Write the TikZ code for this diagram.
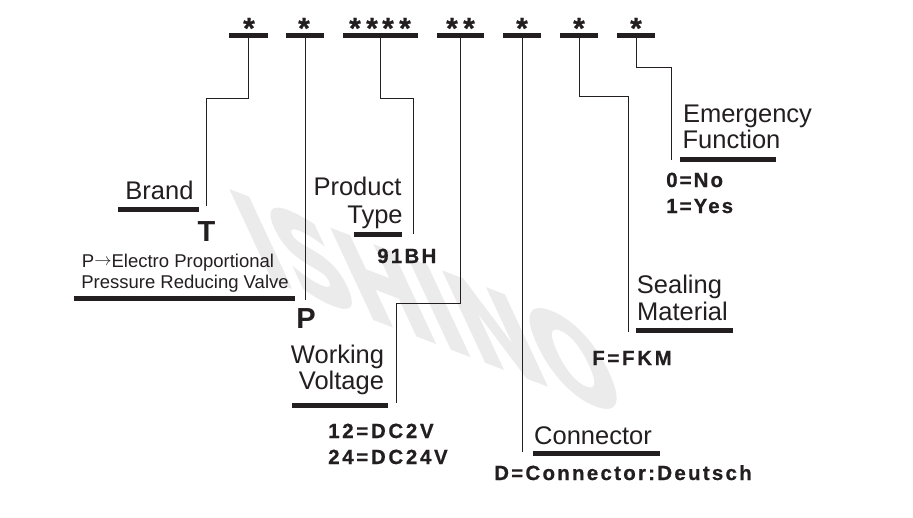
\documentclass[tikz,border=0pt]{standalone}
\usepackage{fontspec}
\setmainfont{Liberation Sans}
\newfontfamily\wmfont{DejaVu Sans}
\definecolor{ink}{HTML}{231F20}
\definecolor{wmgray}{HTML}{EBEBEB}
\begin{document}
\begin{tikzpicture}[x=1pt,y=-1pt,
  thickbar/.style={fill=ink, draw=none, minimum height=5pt, minimum width=#1, inner sep=0pt, outer sep=0pt},
  star/.style={font=\bfseries\fontsize{30}{30}\selectfont\addfontfeatures{FakeBold=0.6}, text=ink, inner sep=0pt, anchor=base},
  lab/.style={font=\fontsize{25.5}{28}\selectfont, text=ink, inner sep=0pt, anchor=base},
  small/.style={font=\fontsize{18.5}{20}\selectfont, text=ink, inner sep=0pt, anchor=base},
  big/.style={font=\bfseries\fontsize{29}{32}\selectfont, text=ink, inner sep=0pt, anchor=base},
  val/.style={font=\bfseries\fontsize{20.5}{22}\selectfont\addfontfeatures{LetterSpace=#1,FakeBold=0.6}, text=ink, inner sep=0pt, anchor=base west},
  conn/.style={draw=ink, line width=1pt},
  wmk/.style={font=\wmfont\bfseries\fontsize{136}{136}\selectfont\addfontfeatures{FakeBold=2.5}, text=wmgray, inner sep=0pt, transform shape, cm={0.68,-0.26,-0.42,0.9,(0,0)}}
]
\useasboundingbox (0,0) rectangle (913,517);
\fill[white] (0,0) rectangle (913,517);

% watermark
\begin{scope}[shift={(428,303)}]
  \node[wmk] (wm) at (0,0) {ISHINO};
\end{scope}

% top bars
\node[thickbar=39pt] (b1) at (248.5,35.5) {};
\node[thickbar=38pt] (b2) at (305,35.5) {};
\node[thickbar=75pt] (b3) at (380.5,35.5) {};
\node[thickbar=47pt] (b4) at (460.5,35.5) {};
\node[thickbar=38pt] (b5) at (522,35.5) {};
\node[thickbar=38pt] (b6) at (579,35.5) {};
\node[thickbar=38pt] (b7) at (636,35.5) {};

% stars
\node[star] (s1) at (249,38.5) {*};
\node[star] (s2) at (304,38.5) {*};
\node[star] (s3a) at (355,38.5) {*};
\node[star] (s3b) at (372,38.5) {*};
\node[star] (s3c) at (388,38.5) {*};
\node[star] (s3d) at (405,38.5) {*};
\node[star] (s4a) at (452,38.5) {*};
\node[star] (s4b) at (469,38.5) {*};
\node[star] (s5) at (522,38.5) {*};
\node[star] (s6) at (579,38.5) {*};
\node[star] (s7) at (636,38.5) {*};

% underlines
\node[thickbar=81pt] (ubrand) at (158.5,209) {};
\node[thickbar=221pt] (ulong) at (184.5,298) {};
\node[thickbar=48pt] (utype) at (378,234) {};
\node[thickbar=96pt] (uvolt) at (340,405) {};
\node[thickbar=127pt] (uconn) at (596.5,453.5) {};
\node[thickbar=97pt] (useal) at (684.5,330) {};
\node[thickbar=96pt] (uemer) at (728,159.5) {};

% labels
\node[lab] (brand) at (159.5,199) {Brand};
\node[big] (T) at (206.5,241) {T};
\node[small] (pe1) at (178,267) {P\raisebox{1.6pt}{$\rightarrow$}Electro Proportional};
\node[small] (pe2) at (185,288) {Pressure Reducing Valve};
\node[big] (P) at (306,328) {P};

\node[lab] (prod) at (357.5,195) {Product};
\node[lab] (type) at (375,223) {Type};
\node[val=11] (v91) at (377,263) {91BH};

\node[lab] (work) at (337.5,363) {Working};
\node[lab] (volt) at (341.5,389) {Voltage};
\node[val=13] (v12) at (328,438) {12=DC2V};
\node[val=13] (v24) at (328,464) {24=DC24V};

\node[lab] (connl) at (593,444) {Connector};
\node[val=11] (vd) at (494,480) {D=Connector:Deutsch};

\node[lab] (seal) at (679.5,293) {Sealing};
\node[lab] (mat) at (682.5,320) {Material};
\node[val=13] (vf) at (592,365) {F=FKM};

\node[lab] (emer) at (747.5,122) {Emergency};
\node[lab] (func) at (731.5,148) {Function};
\node[val=10] (v0) at (666,187) {0=No};
\node[val=10] (v1) at (666,213) {1=Yes};

% connector end points and elbows
\coordinate (k1) at (206,98);  \coordinate (e1) at (206,206);
\coordinate (e2) at (305,300);
\coordinate (k3) at (413,98);  \coordinate (e3) at (413,234);
\coordinate (k4) at (396,303); \coordinate (e4) at (396,403);
\coordinate (e5) at (522,452);
\coordinate (k6) at (628,96);  \coordinate (e6) at (628,332);
\coordinate (k7) at (671,67);  \coordinate (e7) at (671,160);

\draw[conn] (b1.south) |- (k1) -- (e1);
\draw[conn] (b2.south) -- (e2);
\draw[conn] (b3.south) |- (k3) -- (e3);
\draw[conn] (b4.south) |- (k4) -- (e4);
\draw[conn] (b5.south) -- (e5);
\draw[conn] (b6.south) |- (k6) -- (e6);
\draw[conn] (b7.south) |- (k7) -- (e7);
\end{tikzpicture}
\end{document}
